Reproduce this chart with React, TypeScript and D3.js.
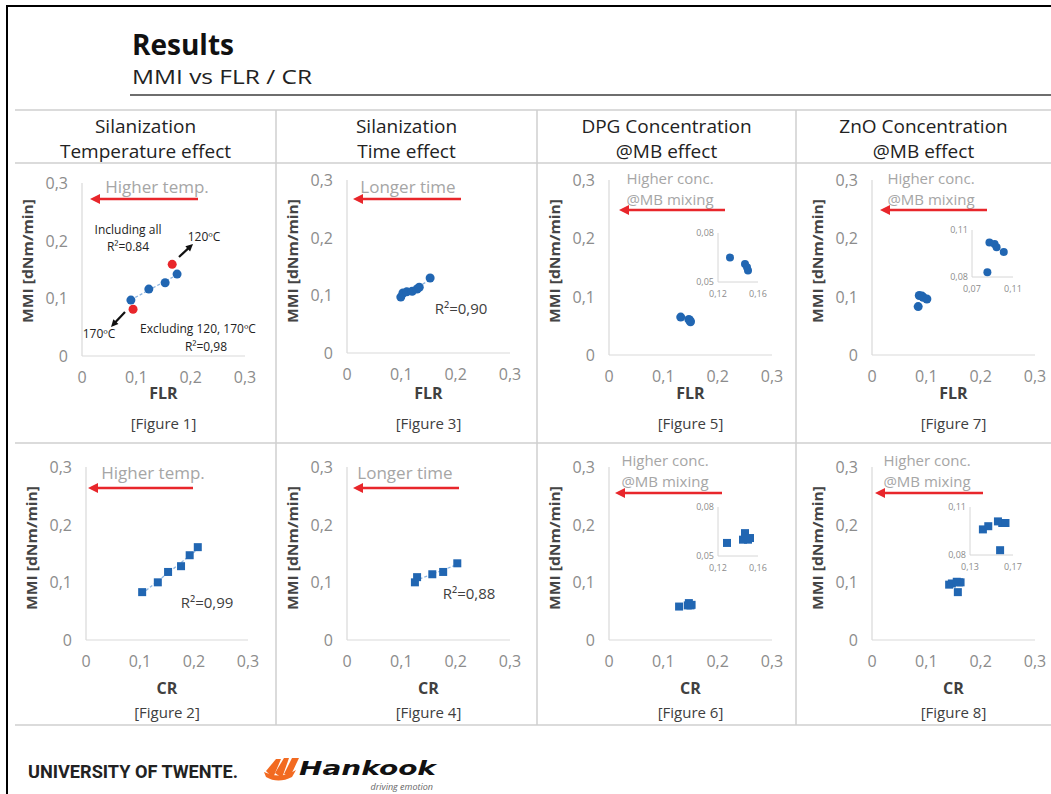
import React from "react";
import * as d3 from "d3";

type Pt = [number, number];

// values
const fig1Blue: Pt[] = [[0.090, 0.097], [0.123, 0.116], [0.153, 0.127], [0.175, 0.142]];
const fig1Red: Pt[] = [[0.094, 0.081], [0.166, 0.159]];
const fig2: Pt[] = [[0.104, 0.083], [0.133, 0.100], [0.152, 0.118], [0.176, 0.128], [0.192, 0.147], [0.207, 0.161]];
const fig3: Pt[] = [[0.099, 0.097], [0.103, 0.104], [0.110, 0.106], [0.120, 0.107], [0.129, 0.111], [0.133, 0.114], [0.153, 0.130]];
const fig4: Pt[] = [[0.125, 0.100], [0.129, 0.109], [0.157, 0.114], [0.177, 0.118], [0.203, 0.133]];
const fig5: Pt[] = [[0.132, 0.065], [0.147, 0.061], [0.149, 0.059], [0.150, 0.057]];
const fig6: Pt[] = [[0.129, 0.058], [0.145, 0.060], [0.147, 0.064], [0.150, 0.060], [0.152, 0.061]];
const fig7: Pt[] = [[0.085, 0.083], [0.087, 0.102], [0.092, 0.101], [0.094, 0.099], [0.101, 0.096]];
const fig8: Pt[] = [[0.142, 0.096], [0.147, 0.098], [0.156, 0.101], [0.160, 0.100], [0.163, 0.100], [0.158, 0.083]];

const mainTicks = [0, 0.1, 0.2, 0.3];
const headers = [
  ["Silanization", "Temperature effect"],
  ["Silanization", "Time effect"],
  ["DPG Concentration", "@MB effect"],
  ["ZnO Concentration", "@MB effect"],
];
const xTitles = ["FLR", "CR"];
const yTitle = "MMI [dNm/min]";

const BLUE = "#2166b2";
const RED = "#e8262b";
const TICK = "#8c8c8c";
const FONT = "'Open Sans', 'Noto Sans', sans-serif";

const rows = [
  { xTitleY: 399, figY: 429, yTitleCY: 261 },
  { xTitleY: 694, figY: 718, yTitleCY: 548 },
];

interface Inset { l: number; r: number; t: number; b: number; xd: Pt; yd: Pt }
interface PanelCfg {
  row: number; left: number; right: number; top: number; bottom: number;
  data: Pt[]; red?: Pt[]; fig: string; trend?: boolean;
  note: string[]; noteX: number; noteY: number[];
  arrowY: number; tail: number; tip: number;
  r2?: { text: string; x: number; y: number };
  inset?: Inset;
}

const panels: PanelCfg[] = [
  { row: 0, left: 82, right: 245, top: 183, bottom: 356, data: fig1Blue, red: fig1Red, fig: "[Figure 1]", trend: true,
    note: ["Higher temp."], noteX: 157, noteY: [193], arrowY: 199, tail: 198, tip: 90 },
  { row: 0, left: 347, right: 510, top: 180, bottom: 353, data: fig3, fig: "[Figure 3]", trend: true,
    note: ["Longer time"], noteX: 408, noteY: [193], arrowY: 199, tail: 461, tip: 353,
    r2: { text: "R²=0,90", x: 461, y: 314 } },
  { row: 0, left: 609, right: 772, top: 180, bottom: 355, data: fig5, fig: "[Figure 5]",
    note: ["Higher conc.", "@MB mixing"], noteX: 670, noteY: [184, 205], arrowY: 210, tail: 725, tip: 619,
    inset: { l: 718, r: 758, t: 233, b: 282, xd: [0.12, 0.16], yd: [0.05, 0.08] } },
  { row: 0, left: 872, right: 1035, top: 180, bottom: 355, data: fig7, fig: "[Figure 7]",
    note: ["Higher conc.", "@MB mixing"], noteX: 931, noteY: [184, 205], arrowY: 210, tail: 987, tip: 880,
    inset: { l: 972, r: 1013, t: 230, b: 277, xd: [0.07, 0.11], yd: [0.08, 0.11] } },
  { row: 1, left: 86, right: 248, top: 467, bottom: 640, data: fig2, fig: "[Figure 2]", trend: true,
    note: ["Higher temp."], noteX: 153, noteY: [479], arrowY: 488, tail: 193, tip: 88,
    r2: { text: "R²=0,99", x: 207, y: 608 } },
  { row: 1, left: 347, right: 510, top: 467, bottom: 640, data: fig4, fig: "[Figure 4]", trend: true,
    note: ["Longer time"], noteX: 405, noteY: [479], arrowY: 488, tail: 459, tip: 353,
    r2: { text: "R²=0,88", x: 469, y: 599 } },
  { row: 1, left: 609, right: 772, top: 467, bottom: 640, data: fig6, fig: "[Figure 6]",
    note: ["Higher conc.", "@MB mixing"], noteX: 665, noteY: [466, 487], arrowY: 493, tail: 722, tip: 615,
    inset: { l: 718, r: 758, t: 507, b: 556, xd: [0.12, 0.16], yd: [0.05, 0.08] } },
  { row: 1, left: 872, right: 1035, top: 467, bottom: 640, data: fig8, fig: "[Figure 8]",
    note: ["Higher conc.", "@MB mixing"], noteX: 927, noteY: [466, 487], arrowY: 493, tail: 983, tip: 875,
    inset: { l: 970, r: 1013, t: 507, b: 555, xd: [0.13, 0.17], yd: [0.08, 0.11] } },
];

const fmt = (v: number, d: number) => (v === 0 ? "0" : d3.format(`.${d}f`)(v).replace(".", ","));

const Marker = ({ cx, cy, square, fill, s }: { cx: number; cy: number; square: boolean; fill: string; s: number }) =>
  square ? <rect x={cx - s} y={cy - s} width={s * 2} height={s * 2} fill={fill} /> : <circle cx={cx} cy={cy} r={s} fill={fill} />;

function Panel({ p }: { p: PanelCfg }) {
  const x = d3.scaleLinear().domain([0, 0.3]).range([p.left, p.right]);
  const y = d3.scaleLinear().domain([0, 0.3]).range([p.bottom, p.top]);
  const square = p.row === 1;
  const rc = rows[p.row];
  const cx = (p.left + p.right) / 2;

  let trendPath: string | null = null;
  if (p.trend) {
    const mx = d3.mean(p.data, (d) => d[0])!;
    const my = d3.mean(p.data, (d) => d[1])!;
    const slope = d3.sum(p.data, (d) => (d[0] - mx) * (d[1] - my)) / d3.sum(p.data, (d) => (d[0] - mx) ** 2);
    const [x0, x1] = d3.extent(p.data, (d) => d[0]) as [number, number];
    const line = d3.line<number>().x((v) => x(v)).y((v) => y(my + slope * (v - mx)));
    trendPath = line([x0, x1]);
  }

  const ins = p.inset;
  let insetEl = null;
  if (ins) {
    const ix = d3.scaleLinear().domain(ins.xd).range([ins.l, ins.r]);
    const iy = d3.scaleLinear().domain(ins.yd).range([ins.b, ins.t]);
    insetEl = (
      <g>
        <line x1={ins.l} x2={ins.l} y1={ins.t} y2={ins.b} stroke="#d6d6d6" />
        <line x1={ins.l} x2={ins.r} y1={ins.b} y2={ins.b} stroke="#d6d6d6" />
        {ins.yd.map((v) => (
          <text key={"iy" + v} x={ins.l - 4} y={iy(v) + 3} textAnchor="end" fontSize={9} fill={TICK}>{fmt(v, 2)}</text>
        ))}
        {ins.xd.map((v) => (
          <text key={"ix" + v} x={ix(v)} y={ins.b + 15} textAnchor="middle" fontSize={9} fill={TICK}>{fmt(v, 2)}</text>
        ))}
        {p.data.map((d, i) => (
          <Marker key={"ip" + i} cx={ix(d[0])} cy={iy(d[1])} square={square} fill={BLUE} s={4} />
        ))}
      </g>
    );
  }

  return (
    <g fontFamily={FONT}>
      <line x1={p.left} x2={p.left} y1={p.top} y2={p.bottom} stroke="#d9d9d9" strokeWidth={1.2} />
      <line x1={p.left} x2={p.right} y1={p.bottom} y2={p.bottom} stroke="#d9d9d9" strokeWidth={1.2} />
      {mainTicks.map((v) => (
        <text key={"y" + v} x={p.left - 14} y={y(v) + 6} textAnchor="end" fontSize={16} fill={TICK}>{fmt(v, 1)}</text>
      ))}
      {mainTicks.map((v) => (
        <text key={"x" + v} x={x(v)} y={p.bottom + 27} textAnchor="middle" fontSize={16} fill={TICK}>{fmt(v, 1)}</text>
      ))}
      <text x={cx} y={rc.xTitleY} textAnchor="middle" fontSize={16} fontWeight="bold" fill="#404040">{xTitles[p.row]}</text>
      <text x={cx} y={rc.figY} textAnchor="middle" fontSize={15} fill="#404040">{p.fig}</text>
      <text transform={`translate(${p.left - 49},${rc.yTitleCY}) rotate(-90)`} textAnchor="middle" fontSize={15}
        fontWeight="bold" fill="#454545" textLength={124} lengthAdjust="spacingAndGlyphs">{yTitle}</text>
      {p.note.map((t, i) => (
        <text key={"n" + i} x={p.noteX} y={p.noteY[i]} textAnchor="middle" fontSize={p.note.length > 1 ? 15 : 17} fill="#a6a6a6">{t}</text>
      ))}
      <line x1={p.tail} x2={p.tip + 8} y1={p.arrowY} y2={p.arrowY} stroke={RED} strokeWidth={2.5} />
      <polygon points={`${p.tip},${p.arrowY} ${p.tip + 10},${p.arrowY - 5} ${p.tip + 10},${p.arrowY + 5}`} fill={RED} />
      {trendPath && <path d={trendPath} fill="none" stroke="#8fb6e0" strokeWidth={1.3} strokeDasharray="3,2" />}
      {p.data.map((d, i) => (
        <Marker key={"p" + i} cx={x(d[0])} cy={y(d[1])} square={square} fill={BLUE} s={square ? 4 : 4.5} />
      ))}
      {p.red && p.red.map((d, i) => <circle key={"r" + i} cx={x(d[0])} cy={y(d[1])} r={4.5} fill={RED} />)}
      {p.r2 && <text x={p.r2.x} y={p.r2.y} textAnchor="middle" fontSize={15} fill="#404040">{p.r2.text}</text>}
      {insetEl}
    </g>
  );
}

const Arrow = ({ x1, y1, x2, y2 }: { x1: number; y1: number; x2: number; y2: number }) => {
  const a = Math.atan2(y2 - y1, x2 - x1);
  const h = 8;
  const p1 = [x2 - h * Math.cos(a - 0.45), y2 - h * Math.sin(a - 0.45)];
  const p2 = [x2 - h * Math.cos(a + 0.45), y2 - h * Math.sin(a + 0.45)];
  return (
    <g>
      <line x1={x1} y1={y1} x2={x2 - 5 * Math.cos(a)} y2={y2 - 5 * Math.sin(a)} stroke="#111" strokeWidth={2.2} />
      <polygon points={`${x2},${y2} ${p1[0]},${p1[1]} ${p2[0]},${p2[1]}`} fill="#111" />
    </g>
  );
};

export default function App() {
  const colEdges = [15, 276, 537, 796, 1051];
  return (
    <svg width={1051} height={794} style={{ position: "absolute", left: 0, top: 0, background: "#fff" }}>
      <rect width={1051} height={794} fill="#fff" />
      {/* slide frame */}
      <line x1={6} x2={1051} y1={6} y2={6} stroke="#000" strokeWidth={2} />
      <line x1={7} x2={7} y1={6} y2={794} stroke="#000" strokeWidth={2} />

      <text x={132} y={55} fontFamily={FONT} fontWeight="bold" fontSize={28} fill="#111">Results</text>
      <text x={132} y={84} fontFamily={FONT} fontSize={20} fill="#222" textLength={180}
        lengthAdjust="spacingAndGlyphs">MMI vs FLR / CR</text>
      <line x1={130} x2={1051} y1={95} y2={95} stroke="#6e6e6e" strokeWidth={2} />

      {/* table grid */}
      {[110, 163, 443, 725].map((yy) => (
        <line key={yy} x1={15} x2={1051} y1={yy} y2={yy} stroke="#cfcfcf" strokeWidth={1.5} />
      ))}
      {colEdges.slice(1, 4).map((xx) => (
        <line key={xx} x1={xx} x2={xx} y1={110} y2={725} stroke="#cfcfcf" strokeWidth={1.5} />
      ))}
      {headers.map((h, i) => (
        <g key={i} fontFamily={FONT} fontSize={19} fill="#222" textAnchor="middle">
          <text x={(colEdges[i] + colEdges[i + 1]) / 2} y={133}>{h[0]}</text>
          <text x={(colEdges[i] + colEdges[i + 1]) / 2} y={158}>{h[1]}</text>
        </g>
      ))}

      {panels.map((p, i) => <Panel key={i} p={p} />)}

      {/* figure 1 annotations */}
      <g fontFamily={FONT} fontSize={12} fill="#222">
        <text x={128} y={234} textAnchor="middle">Including all</text>
        <text x={128} y={251} textAnchor="middle">R²=0.84</text>
        <text x={204} y={241} textAnchor="middle">120ºC</text>
        <text x={99} y={338} textAnchor="middle">170ºC</text>
        <text x={198} y={333} textAnchor="middle">Excluding 120, 170ºC</text>
        <text x={206} y={351} textAnchor="middle">R²=0,98</text>
      </g>
      <Arrow x1={179} y1={257} x2={193} y2={244} />
      <Arrow x1={125} y1={312} x2={111} y2={327} />

      {/* footer logos */}
      <text x={28} y={778} fontFamily="'Roboto', sans-serif" fontWeight="bold" fontSize={18} fill="#222"
        textLength={210} lengthAdjust="spacingAndGlyphs">UNIVERSITY OF TWENTE.</text>
      <g fill="#f26a21">
        <path d="M266,771 L276,759 L281,759 L273,778 Z" />
        <path d="M275,773 L284,758 L289,758 L282,778 Z" />
        <path d="M284,774 L292,758 L299,758 L290,777 Z" />
        <path d="M264,772 Q280,780 296,770 L292,777 Q278,784 266,777 Z" />
      </g>
      <text x={299} y={775} fontFamily="'DejaVu Sans', sans-serif" fontWeight="bold" fontStyle="italic" fontSize={19}
        fill="#111" textLength={137} lengthAdjust="spacingAndGlyphs">Hankook</text>
      <text x={433} y={790} textAnchor="end" fontFamily={FONT} fontStyle="italic" fontSize={9} fill="#666">driving emotion</text>
    </svg>
  );
}
